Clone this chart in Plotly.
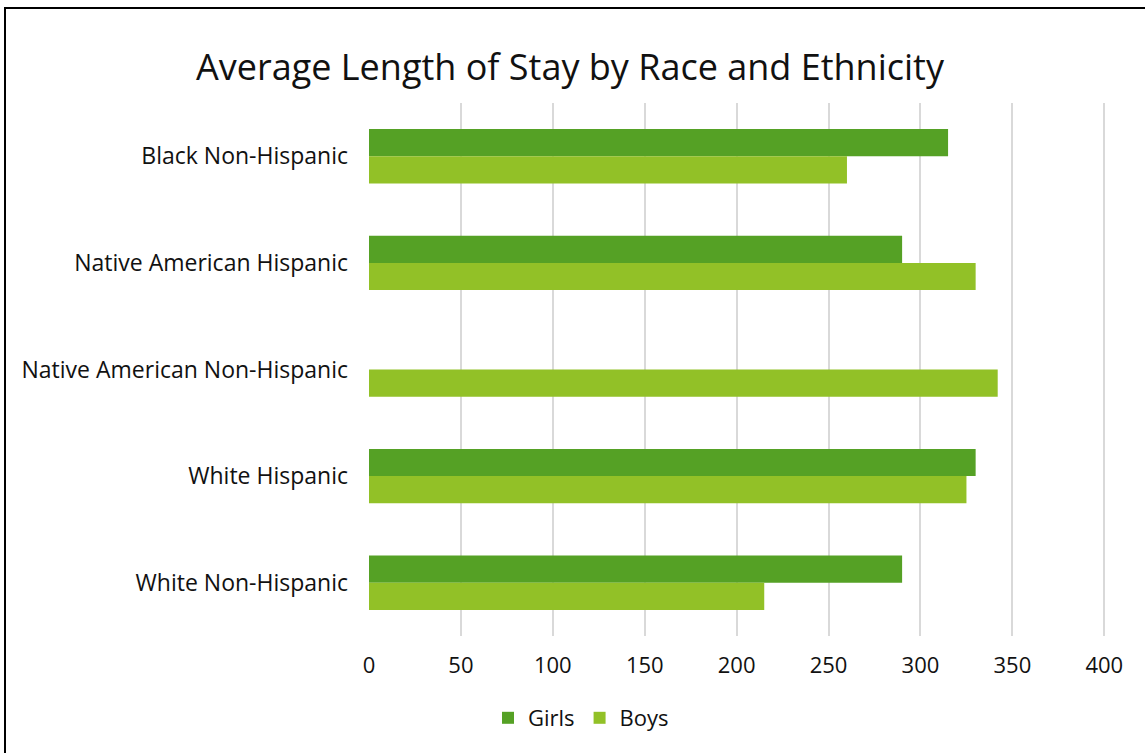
import plotly.graph_objects as go

categories = ["Black Non-Hispanic", "Native American Hispanic", "Native American Non-Hispanic",
              "White Hispanic", "White Non-Hispanic"]
girls = [315, 290, None, 330, 290]
boys = [260, 330, 342, 325, 215]
x_ticks = [0, 50, 100, 150, 200, 250, 300, 350, 400]

W, H = 1145, 753
L, R, T, B = 369, 37, 103, 117
pw = W - L - R
ph = H - T - B

FONT = "Open Sans"
fig = go.Figure()
fig.add_trace(go.Bar(y=categories, x=girls, orientation="h", name="Girls",
                     marker=dict(color="#55a125", line=dict(width=0))))
fig.add_trace(go.Bar(y=categories, x=boys, orientation="h", name="Boys",
                     marker=dict(color="#92c127", line=dict(width=0))))

def px_x(p):
    return (p - L) / pw

def px_y(p):
    return 1 - (p - T) / ph

fig.update_layout(
    width=W, height=H,
    margin=dict(l=L, r=R, t=T, b=B, autoexpand=False),
    paper_bgcolor="white", plot_bgcolor="white",
    barmode="group", bargap=0.49, bargroupgap=0,
    font=dict(family=FONT, size=22, color="#111111"),
    title=dict(text="Average Length of Stay by Race and Ethnicity",
               font=dict(family=FONT, size=36, color="#111111"),
               xref="container", x=570 / W, xanchor="center",
               yref="container", y=1 - 67 / H, yanchor="middle"),
    xaxis=dict(range=[0, 402], tickvals=x_ticks, showgrid=True, gridcolor="#d9d9d9",
               gridwidth=2, zeroline=False, showline=False, ticks="",
               tickfont=dict(size=22), ticklabelstandoff=14),
    yaxis=dict(autorange="reversed", showgrid=False, zeroline=False, showline=False,
               ticks="", tickfont=dict(size=23), ticklabelstandoff=20),
    legend=dict(orientation="h", xref="container", yref="container",
                x=581 / W, xanchor="center", y=1 - 718 / H, yanchor="middle",
                font=dict(size=22), itemwidth=30, traceorder="normal"),
    shapes=[
        dict(type="line", xref="paper", yref="paper",
             x0=px_x(5), x1=px_x(5), y0=px_y(7), y1=px_y(760),
             line=dict(color="black", width=2)),
        dict(type="line", xref="paper", yref="paper",
             x0=px_x(4), x1=px_x(1150), y0=px_y(8), y1=px_y(8),
             line=dict(color="black", width=2)),
    ],
)

fig.write_html("out.html")
